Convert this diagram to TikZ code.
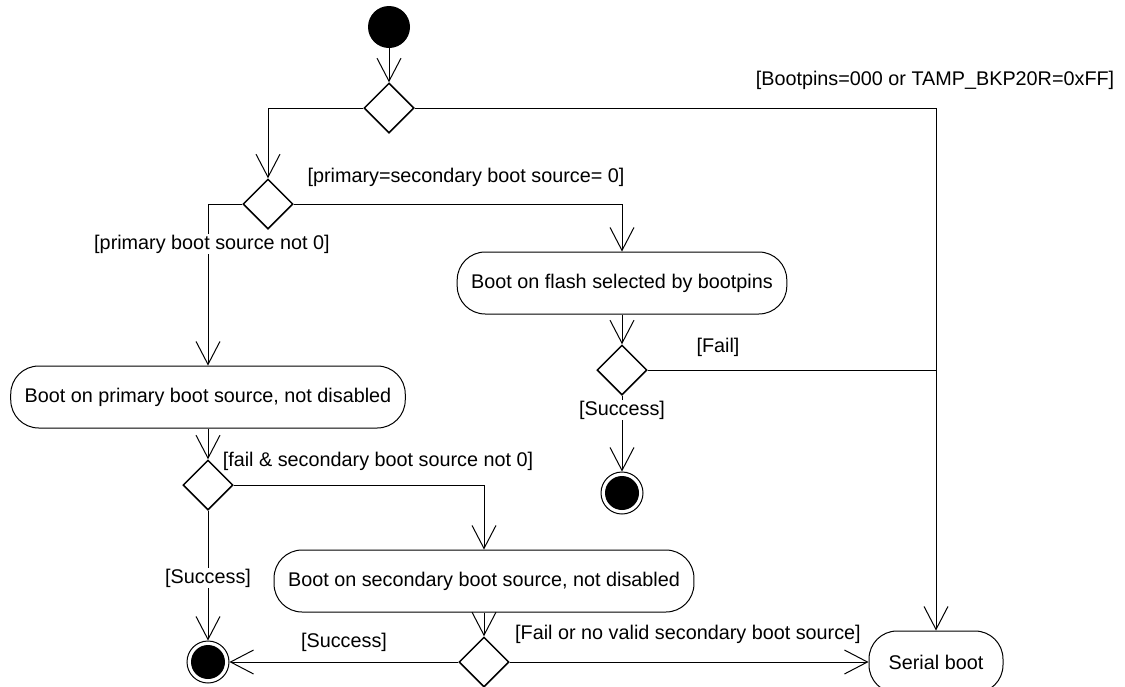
\documentclass[tikz,border=0pt]{standalone}
\usepackage{fontspec}
\setmainfont{Liberation Sans}
\usetikzlibrary{shapes.geometric,arrows.meta}

\begin{document}
\begin{tikzpicture}[x=1pt,y=-1pt]
\tikzset{every node/.style = {font=\fontsize{19.8}{23}\selectfont},
  startdot/.style = {shape=circle,fill=black,minimum size=42,inner sep=0},
  enddot/.style = {shape=circle,draw,line width=1pt,minimum size=42,inner sep=0,
    path picture={\fill (path picture bounding box.center) circle (17);}},
  decision/.style = {shape=diamond,draw,line width=1.5pt,minimum size=50,inner sep=0},
  action/.style = {shape=rectangle,draw,line width=1pt,rounded corners=28,
    minimum height=62,inner xsep=14},
  guard/.style = {fill=white,inner sep=1pt},
  flow/.style = {line width=1pt,-{Straight Barb[length=23,width=24]}}}
\useasboundingbox (0,0) rectangle (1125,686);
% states
\node[startdot] (init) at (389,27) {};
\node[decision] (d1) at (389,108) {};
\node[decision] (d2) at (268,204) {};
\node[action] (flash) at (622,283) {Boot on flash selected by bootpins};
\node[decision] (d3) at (622,370) {};
\node[enddot] (end1) at (622,493) {};
\node[action] (primary) at (208,397) {Boot on primary boot source, not disabled};
\node[decision] (d4) at (208,485) {};
\node[action] (secondary) at (484,581) {Boot on secondary boot source, not disabled};
\node[decision] (d5) at (484,662) {};
\node[enddot] (end2) at (208,662) {};
\node[action,minimum width=134] (serial) at (936,662) {Serial boot};
% transitions
\foreach \i/\j in {init/d1,flash/d3,d3/end1,primary/d4,d4/end2,secondary/d5,d5/end2,d5/serial} {
    \draw[flow] (\i) -- (\j);
}
\draw[flow] (d1.west) -| (d2.north);
\draw[flow] (d1.east) -| (serial.north);
\draw[flow] (d2.west) -| (primary.north);
\draw[flow] (d2.east) -| (flash.north);
\draw[flow] (d4.east) -| (secondary.north);
\draw[line width=1pt] (d3.east) -- (d3.east -| serial.north);
% guards
\foreach \name/\pos/\txt in {g1/{935,80}/{[Bootpins=000 or TAMP\_BKP20R=0xFF]},
    g2/{466,177}/{[primary=secondary boot source= 0]},
    g3/{212,244}/{[primary boot source not 0]},
    g4/{718,347}/{[Fail]},
    g5/{622,410}/{[Success]},
    g6/{378,461}/{[fail \& secondary boot source not 0]},
    g7/{208,578}/{[Success]},
    g8/{344,642}/{[Success]},
    g9/{688,634}/{[Fail or no valid secondary boot source]}} {
    \node[guard] (\name) at (\pos) {\txt};
}
\end{tikzpicture}
\end{document}
